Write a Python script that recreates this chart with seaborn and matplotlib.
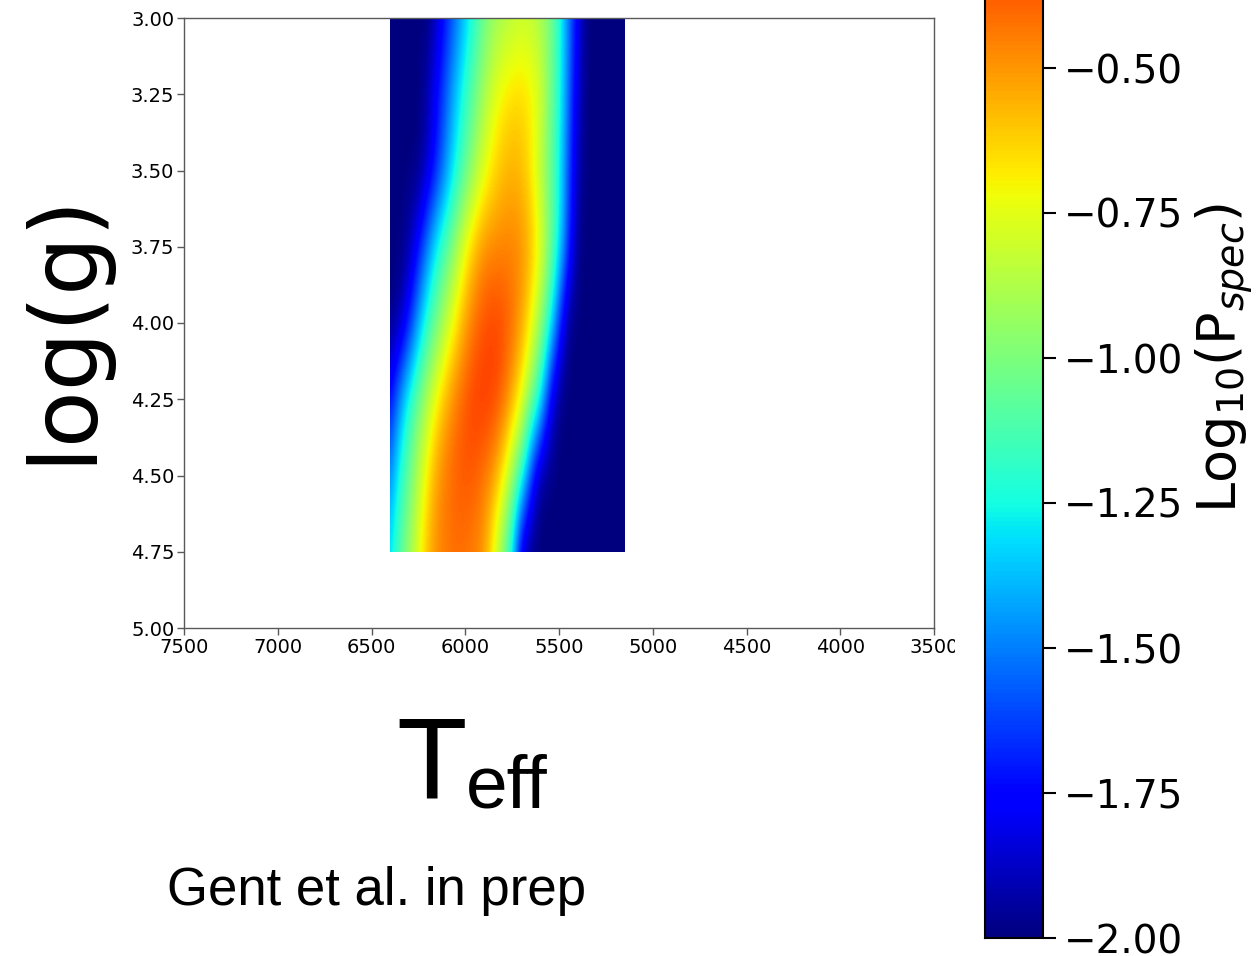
import numpy as np
import matplotlib
matplotlib.use("Agg")
import matplotlib.pyplot as plt
import seaborn as sns
from matplotlib.patches import Rectangle
from matplotlib.transforms import Bbox, TransformedBbox

sns.set_theme(style="ticks")
plt.rcParams['font.family'] = ['DejaVu Sans']
plt.rcParams['mathtext.fontset'] = 'dejavusans'
plt.rcParams['text.color'] = 'black'
plt.rcParams['axes.labelcolor'] = 'black'
plt.rcParams['xtick.labelcolor'] = 'black'
plt.rcParams['ytick.labelcolor'] = 'black'

# ---- data ----
teff = [6400, 6350, 6300, 6250, 6200, 6150, 6100, 6050, 6000, 5950, 5900, 5850, 5800,
        5750, 5700, 5650, 5600, 5550, 5500, 5450, 5400, 5350, 5300, 5250, 5200, 5150]
logg = [3.00, 3.25, 3.50, 3.75, 4.00, 4.25, 4.50, 4.75]

logp_g300 = [-2, -2, -2, -2, -2, -1.87, -1.70, -1.53, -1.36, -1.20, -1.05, -0.95, -0.90,
             -0.86, -0.83, -0.84, -0.90, -1.00, -1.20, -1.50, -1.80, -2, -2, -2, -2, -2]
logp_g325 = [-2, -2, -2, -2, -1.91, -1.74, -1.55, -1.36, -1.19, -1.04, -0.90, -0.77, -0.69,
             -0.65, -0.64, -0.68, -0.77, -0.99, -1.21, -1.53, -1.86, -2, -2, -2, -2, -2]
logp_g350 = [-2, -2, -2, -2, -1.88, -1.69, -1.47, -1.26, -1.09, -0.92, -0.77, -0.66, -0.59,
             -0.56, -0.59, -0.68, -0.86, -1.04, -1.26, -1.60, -1.92, -2, -2, -2, -2, -2]
logp_g375 = [-2, -2, -1.93, -1.74, -1.48, -1.25, -1.09, -0.92, -0.72, -0.58, -0.49, -0.47, -0.46,
             -0.46, -0.48, -0.57, -0.72, -0.99, -1.25, -1.63, -1.98, -2, -2, -2, -2, -2]
logp_g400 = [-2, -1.94, -1.72, -1.43, -1.19, -1.02, -0.84, -0.68, -0.53, -0.42, -0.35, -0.32, -0.34,
             -0.41, -0.52, -0.69, -0.93, -1.20, -1.63, -2, -2, -2, -2, -2, -2, -2]
logp_g425 = [-1.75, -1.45, -1.21, -1.03, -0.86, -0.69, -0.55, -0.44, -0.36, -0.31, -0.30, -0.32, -0.39,
             -0.53, -0.71, -0.97, -1.23, -1.76, -2, -2, -2, -2, -2, -2, -2, -2]
logp_g450 = [-1.48, -1.23, -1.06, -0.86, -0.67, -0.51, -0.43, -0.38, -0.36, -0.38, -0.43, -0.51, -0.67,
             -0.92, -1.18, -1.65, -2, -2, -2, -2, -2, -2, -2, -2, -2, -2]
logp_g475 = [-1.30, -1.10, -0.93, -0.75, -0.58, -0.48, -0.44, -0.42, -0.43, -0.46, -0.52, -0.73, -1.00,
             -1.30, -1.90, -2, -2, -2, -2, -2, -2, -2, -2, -2, -2, -2]

x_ticks = [7500, 7000, 6500, 6000, 5500, 5000, 4500, 4000, 3500]
y_ticks = [3.00, 3.25, 3.50, 3.75, 4.00, 4.25, 4.50, 4.75, 5.00]
cbar_ticks = [-2.00, -1.75, -1.50, -1.25, -1.00, -0.75, -0.50, -0.25, 0.00]

Z = np.array([logp_g300, logp_g325, logp_g350, logp_g375,
              logp_g400, logp_g425, logp_g450, logp_g475])

W, H = 1256, 956
fig = plt.figure(figsize=(W / 100, H / 100), dpi=100)
fig.patch.set_facecolor('white')

ax = fig.add_axes([184 / W, 1 - 628 / H, 750 / W, 610 / H])
cmap = matplotlib.colormaps['jet']
dT = abs(teff[1] - teff[0]) / 2
dg = abs(logg[1] - logg[0]) / 2
im = ax.imshow(Z, cmap=cmap, vmin=-2, vmax=0, origin='upper', aspect='auto',
               interpolation='bicubic', interpolation_stage='data',
               extent=(teff[0] + dT, teff[-1] - dT, logg[-1] + dg, logg[0] - dg))
clip = Rectangle((teff[-1], logg[0]), teff[0] - teff[-1], logg[-1] - logg[0],
                 transform=ax.transData, facecolor='none', edgecolor='none')
im.set_clip_path(clip)

ax.set_xlim(7500, 3500)
ax.set_ylim(5.0, 3.0)
ax.set_xticks(x_ticks)
ax.set_xticklabels([str(v) for v in x_ticks])
ax.set_yticks(y_ticks)
ax.set_yticklabels([f"{v:.2f}" for v in y_ticks])
ax.tick_params(labelsize=14, length=5, width=1, color='0.35', labelcolor='black', pad=2)
for s in ax.spines.values():
    s.set_color('0.35')
    s.set_linewidth(1.0)
ax.set_facecolor('white')

# clip the last x tick label like in the reference
cb_box = TransformedBbox(Bbox([[0, 0], [955 / W, 1]]), fig.transFigure)
for lab in ax.get_xticklabels():
    lab.set_clip_on(True)
    lab.set_clip_box(cb_box)

# colorbar (extends beyond the top of the image)
cax = fig.add_axes([985 / W, 1 - 938 / H, 58 / W, 1160 / H])
cb = fig.colorbar(im, cax=cax)
cb.set_ticks(cbar_ticks)
cb.set_ticklabels([f"{v:.2f}".replace('-', '\u2212') for v in cbar_ticks])
cb.ax.tick_params(labelsize=28, length=9, width=1.5, pad=6, color='black',
                  labelcolor='black')
cb.outline.set_linewidth(1.5)
cb.outline.set_edgecolor('black')
cb.set_label(r"Log$_{10}$(P$_{spec}$)", fontsize=39, labelpad=8, color='black')

# big labels
fig.text(63 / W, 1 - 327 / H, "log(g)", rotation=90, ha='center', va='center',
         fontsize=67, family=['DejaVu Sans'], color='black')
fig.text(396 / W, 1 - 798 / H, "T", ha='left', va='baseline', fontsize=83,
         family=['Liberation Sans'], color='black')
fig.text(466 / W, 1 - 807 / H, "eff", ha='left', va='baseline', fontsize=54,
         family=['Liberation Sans'], color='black')
fig.text(167 / W, 1 - 905 / H, "Gent et al. in prep", ha='left', va='baseline',
         fontsize=38, family=['Liberation Sans'], color='black')

fig.savefig("out.png", dpi=100, facecolor='white')
